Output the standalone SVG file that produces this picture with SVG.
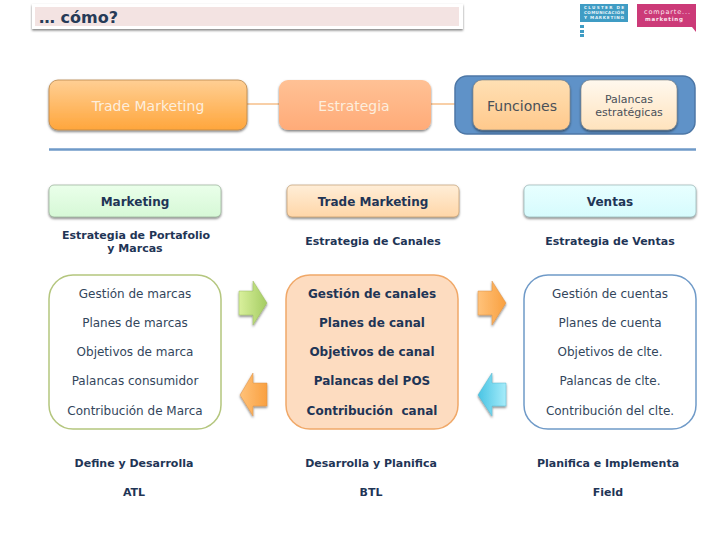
<svg xmlns="http://www.w3.org/2000/svg" width="728" height="546" viewBox="0 0 728 546">
<style>
text{font-family:"DejaVu Sans",Verdana,sans-serif;text-anchor:middle}
.b{font-weight:bold;font-size:12px;fill:#1f3556}
.s{font-weight:bold;font-size:11px;fill:#1f3556}
.n{font-size:12px;fill:#33465c}
.h{font-size:14px;fill:#fdeedd}
</style>
<defs>
<filter id="sh" x="-10%" y="-10%" width="120%" height="130%"><feDropShadow dx="0" dy="1.5" stdDeviation="1.2" flood-color="#000" flood-opacity=".5"/></filter>
<linearGradient id="gO" x1="0" y1="0" x2="0" y2="1"><stop offset="0" stop-color="#ffcf94"/><stop offset="1" stop-color="#ffa63c"/></linearGradient>
<linearGradient id="gS" x1="0" y1="0" x2="0" y2="1"><stop offset="0" stop-color="#ffc195"/><stop offset="1" stop-color="#ffab78"/></linearGradient>
<linearGradient id="gF" x1="0" y1="0" x2="0" y2="1"><stop offset="0" stop-color="#ffe0b4"/><stop offset="1" stop-color="#ffc98c"/></linearGradient>
<linearGradient id="gP" x1="0" y1="0" x2="0" y2="1"><stop offset="0" stop-color="#fff8ee"/><stop offset="1" stop-color="#ffe3bd"/></linearGradient>
<linearGradient id="gM" x1="0" y1="0" x2="0" y2="1"><stop offset="0" stop-color="#eaffea"/><stop offset="1" stop-color="#d6f8d6"/></linearGradient>
<linearGradient id="gT" x1="0" y1="0" x2="0" y2="1"><stop offset="0" stop-color="#ffeed8"/><stop offset="1" stop-color="#ffd6a8"/></linearGradient>
<linearGradient id="gV" x1="0" y1="0" x2="0" y2="1"><stop offset="0" stop-color="#e8ffff"/><stop offset="1" stop-color="#d6fbfd"/></linearGradient>
<linearGradient id="aG" x1="0" y1="0" x2="1" y2="0"><stop offset="0" stop-color="#d9f09c"/><stop offset="1" stop-color="#a4cc62"/></linearGradient>
<linearGradient id="aO" x1="0" y1="0" x2="1" y2="0"><stop offset="0" stop-color="#ffc27a"/><stop offset="1" stop-color="#f9a040"/></linearGradient>
<linearGradient id="aB" x1="0" y1="0" x2="1" y2="0"><stop offset="0" stop-color="#48c4e4"/><stop offset="1" stop-color="#a6ecfa"/></linearGradient>
</defs>
<rect width="728" height="546" fill="#fff"/>
<g id="title">
<rect x="32" y="4" width="431" height="25" fill="#fff" filter="url(#sh)"/>
<rect x="35" y="7" width="424" height="19" fill="#f3e3e2"/>
<text x="39" y="23" style="text-anchor:start;font-weight:bold;font-size:16px;fill:#263a57">… cómo?</text>
</g>
<g id="logos">
<rect x="580" y="4" width="48" height="18" fill="#3f9cc4"/>
<text x="604" y="9" textLength="40" style="font-size:4.2px;font-weight:bold;fill:#e8f5fa">CLUSTER DE</text>
<text x="604" y="14" textLength="40" style="font-size:4px;font-weight:bold;fill:#e8f5fa">COMUNICACIÓN</text>
<text x="604" y="19" textLength="40" style="font-size:4.2px;font-weight:bold;fill:#e8f5fa">Y MARKETING</text>
<rect x="580" y="25" width="4" height="3" fill="#3f9cc4"/><rect x="580" y="30" width="4" height="3" fill="#3f9cc4"/><rect x="580" y="34" width="4" height="3" fill="#3f9cc4"/>
<path d="M637 4H696V32L692 27H637Z" fill="#cc3a78"/>
<text x="667" y="13.500" textLength="46" style="font-size:6.500px;fill:#fbe6ef">comparte...</text>
<text x="664" y="20.500" textLength="38" style="font-size:5.500px;font-weight:bold;fill:#fbe6ef">marketing</text>
</g>
<g id="connectors">
<path d="M247 104H279M431 104H455" stroke="#f6c08a" stroke-width="1.500" fill="none"/>
<path d="M49 149.500H696" stroke="#6f9ac8" stroke-width="2.500" fill="none"/>
</g>
<g id="trade-marketing"><rect x="49" y="80" width="198" height="50" rx="9" fill="url(#gO)" stroke="#b9874a" stroke-width=".8" filter="url(#sh)"/><text class="h" x="148" y="111">Trade Marketing</text></g>
<g id="estrategia"><rect x="279" y="80" width="152" height="50" rx="9" fill="url(#gS)" filter="url(#sh)"/><text class="h" x="354" y="111">Estrategia</text></g>
<g id="panel"><rect x="455" y="76" width="240" height="58" rx="12" fill="#5f92c8" stroke="#4d77a6" stroke-width="1.500"/></g>
<g id="funciones"><rect x="473" y="80" width="97" height="50" rx="9" fill="url(#gF)" stroke="#7c7f80" stroke-width=".6" filter="url(#sh)"/><text x="522" y="111" style="font-size:14px;fill:#4a5058">Funciones</text></g>
<g id="palancas"><rect x="581" y="80" width="96" height="50" rx="9" fill="url(#gP)" stroke="#7c7f80" stroke-width=".6" filter="url(#sh)"/><text x="629" y="103" style="font-size:11px;fill:#4a5058">Palancas</text><text x="629" y="116" style="font-size:11px;fill:#4a5058">estratégicas</text></g>
<g id="h-marketing"><rect x="49" y="185" width="172" height="32" rx="5" fill="url(#gM)" stroke="#86a086" stroke-width=".6" filter="url(#sh)"/><text class="b" x="135" y="206">Marketing</text></g>
<g id="h-trade"><rect x="287" y="185" width="172" height="32" rx="5" fill="url(#gT)" stroke="#b58f60" stroke-width=".6" filter="url(#sh)"/><text class="b" x="373" y="206">Trade Marketing</text></g>
<g id="h-ventas"><rect x="524" y="185" width="172" height="32" rx="5" fill="url(#gV)" stroke="#86a4a6" stroke-width=".6" filter="url(#sh)"/><text class="b" x="610" y="206">Ventas</text></g>
<g id="sub-labels">
<text class="s" x="136" y="239">Estrategia de Portafolio</text><text class="s" x="135" y="252">y Marcas</text>
<text class="s" x="373" y="245">Estrategia de Canales</text>
<text class="s" x="610" y="245">Estrategia de Ventas</text>
</g>
<g id="box-marketing"><rect x="49" y="275" width="172" height="154" rx="24" fill="#fff" stroke="#b4c67e" stroke-width="1.500"/>
<text class="n" x="135" y="298">Gestión de marcas</text><text class="n" x="135" y="327">Planes de marcas</text><text class="n" x="135" y="356">Objetivos de marca</text><text class="n" x="135" y="385">Palancas consumidor</text><text class="n" x="135" y="415">Contribución de Marca</text></g>
<g id="box-trade"><rect x="286" y="275" width="172" height="154" rx="24" fill="#fddcc0" stroke="#f0a868" stroke-width="1.500"/>
<text class="b" x="372" y="298">Gestión de canales</text><text class="b" x="372" y="327">Planes de canal</text><text class="b" x="372" y="356">Objetivos de canal</text><text class="b" x="372" y="385">Palancas del POS</text><text class="b" x="372" y="415" xml:space="preserve">Contribución  canal</text></g>
<g id="box-ventas"><rect x="524" y="275" width="172" height="154" rx="24" fill="#fff" stroke="#6f9ac8" stroke-width="1.500"/>
<text class="n" x="610" y="298">Gestión de cuentas</text><text class="n" x="610" y="327">Planes de cuenta</text><text class="n" x="610" y="356">Objetivos de clte.</text><text class="n" x="610" y="385">Palancas de clte.</text><text class="n" x="610" y="415">Contribución del clte.</text></g>
<g id="arrows">
<path d="M239 291H253V281L267 303L253 325V315H239Z" fill="url(#aG)" stroke="#9ab860" stroke-width=".5" filter="url(#sh)"/>
<path d="M478 291H492V281L506 303L492 325V315H478Z" fill="url(#aO)" stroke="#d8914a" stroke-width=".5" filter="url(#sh)"/>
<path d="M267 383H253V373L240 395L253 416V406H267Z" fill="url(#aO)" stroke="#d8914a" stroke-width=".5" filter="url(#sh)"/>
<path d="M506 383H492V373L478 395L492 416V406H506Z" fill="url(#aB)" stroke="#58b4cc" stroke-width=".5" filter="url(#sh)"/>
</g>
<g id="footer">
<text class="s" x="134" y="467">Define y Desarrolla</text><text class="s" x="134" y="496">ATL</text>
<text class="s" x="371" y="467">Desarrolla y Planifica</text><text class="s" x="371" y="496">BTL</text>
<text class="s" x="608" y="467">Planifica e Implementa</text><text class="s" x="608" y="496">Field</text>
</g>
</svg>
